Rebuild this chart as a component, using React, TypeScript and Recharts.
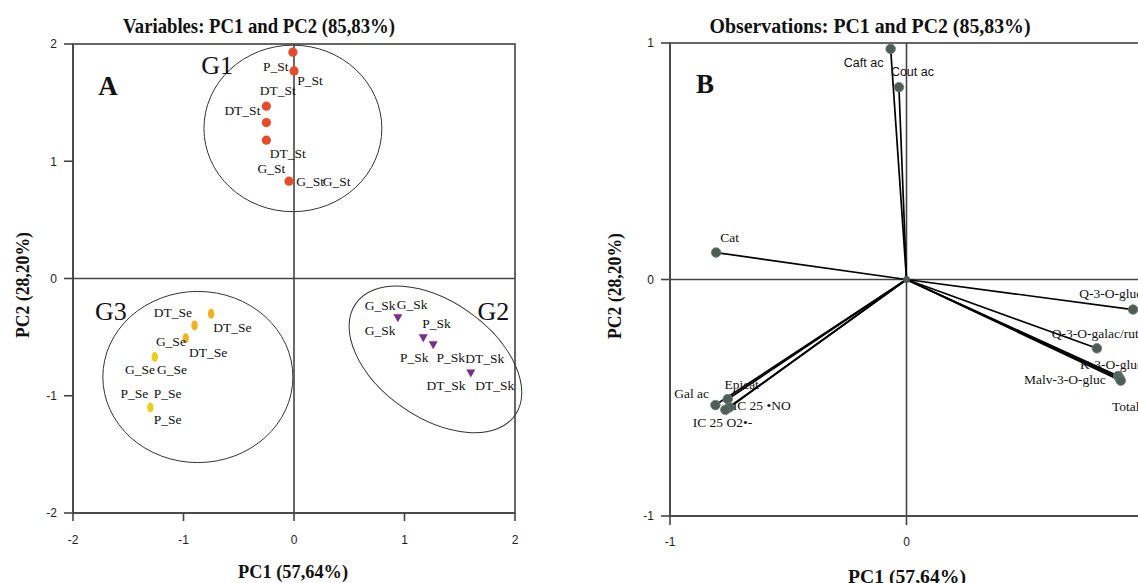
import React from 'react';
import { ScatterChart, Scatter, XAxis, YAxis, ReferenceLine, ReferenceArea } from 'recharts';

const SERIF = '"Liberation Serif", "Times New Roman", serif';
const SANS = '"Liberation Sans", Arial, sans-serif';

// ---------- Panel A data ----------
const pcTicksA = [-2, -1, 0, 1, 2];
const g1Points = [
  { x: -0.01, y: 1.93 }, { x: 0.0, y: 1.77 }, { x: -0.25, y: 1.47 },
  { x: -0.25, y: 1.33 }, { x: -0.25, y: 1.18 }, { x: -0.045, y: 0.83 },
];
const g2Points = [
  { x: 0.94, y: -0.34 }, { x: 1.17, y: -0.51 }, { x: 1.26, y: -0.57 }, { x: 1.6, y: -0.81 },
];
const g3PointsOrange = [
  { x: -0.75, y: -0.3 }, { x: -0.9, y: -0.4 }, { x: -0.98, y: -0.51 },
];
const g3PointsYellow = [
  { x: -1.26, y: -0.67 }, { x: -1.3, y: -1.1 },
];
const g1Labels = [
  { label: 'P_St', x: -0.28, y: 1.81 }, { label: 'P_St', x: 0.03, y: 1.69 },
  { label: 'DT_St', x: -0.31, y: 1.6 }, { label: 'DT_St', x: -0.63, y: 1.43 },
  { label: 'DT_St', x: -0.22, y: 1.07 }, { label: 'G_St', x: -0.33, y: 0.94 },
  { label: 'G_St', x: 0.02, y: 0.83 }, { label: 'G_St', x: 0.26, y: 0.83 },
];
const g2Labels = [
  { label: 'G_Sk', x: 0.64, y: -0.23 }, { label: 'G_Sk', x: 0.93, y: -0.22 },
  { label: 'G_Sk', x: 0.64, y: -0.44 }, { label: 'P_Sk', x: 1.16, y: -0.38 },
  { label: 'P_Sk', x: 0.96, y: -0.67 }, { label: 'P_Sk', x: 1.29, y: -0.67 },
  { label: 'DT_Sk', x: 1.55, y: -0.68 }, { label: 'DT_Sk', x: 1.2, y: -0.91 },
  { label: 'DT_Sk', x: 1.64, y: -0.91 },
];
const g3Labels = [
  { label: 'DT_Se', x: -1.27, y: -0.29 }, { label: 'DT_Se', x: -0.73, y: -0.42 },
  { label: 'G_Se', x: -1.25, y: -0.54 }, { label: 'DT_Se', x: -0.95, y: -0.63 },
  { label: 'G_Se', x: -1.53, y: -0.78 }, { label: 'G_Se', x: -1.24, y: -0.78 },
  { label: 'P_Se', x: -1.57, y: -0.98 }, { label: 'P_Se', x: -1.27, y: -0.98 },
  { label: 'P_Se', x: -1.27, y: -1.2 },
];
const groupNames = [
  { label: 'G1', x: -0.84, y: 1.82 },
  { label: 'G2', x: 1.66, y: -0.28 },
  { label: 'G3', x: -1.8, y: -0.28 },
];
const groupEllipses = [
  { name: 'G1', cx: -0.01, cy: 1.28, rx: 0.805, ry: 0.71, angle: 0 },
  { name: 'G2', cx: 1.28, cy: -0.69, rx: 0.88, ry: 0.495, angle: 35 },
  { name: 'G3', cx: -0.87, cy: -0.84, rx: 0.86, ry: 0.73, angle: 0 },
];

// ---------- Panel B data ----------
const pcTicksB = [-1, 0, 1];
const vectors = [
  { name: 'Caft ac', x: -0.067, y: 0.975 },
  { name: 'Cout ac', x: -0.032, y: 0.813 },
  { name: 'Cat', x: -0.805, y: 0.114 },
  { name: 'Gal ac', x: -0.808, y: -0.531 },
  { name: 'Epicat', x: -0.756, y: -0.506 },
  { name: 'IC 25 •NO', x: -0.749, y: -0.541 },
  { name: 'IC 25 O2•-', x: -0.766, y: -0.551 },
  { name: 'Q-3-O-gluc', x: 0.958, y: -0.127 },
  { name: 'Q-3-O-galac/rut', x: 0.805, y: -0.291 },
  { name: 'K-3-O-gluc', x: 0.895, y: -0.408 },
  { name: 'Malv-3-O-gluc', x: 0.901, y: -0.418 },
  { name: 'Total anthocyanins', x: 0.906, y: -0.428 },
];
const origin = [{ x: 0, y: 0 }];
const sansLabelsB = [
  { label: 'Caft ac', x: -0.265, y: 0.917 },
  { label: 'Cout ac', x: -0.066, y: 0.877 },
];
const serifLabelsB = [
  { label: 'Cat', x: -0.787, y: 0.179 },
  { label: 'Gal ac', x: -0.982, y: -0.484 },
  { label: 'Epicat', x: -0.77, y: -0.445 },
  { label: 'IC 25 •NO', x: -0.735, y: -0.534 },
  { label: 'IC 25 O2•-', x: -0.904, y: -0.605 },
  { label: 'Q-3-O-gluc', x: 0.73, y: -0.061 },
  { label: 'Q-3-O-galac/rut', x: 0.614, y: -0.23 },
  { label: 'K-3-O-gluc', x: 0.734, y: -0.361 },
  { label: 'Malv-3-O-gluc', x: 0.497, y: -0.421 },
  { label: 'Total anthocyanins', x: 0.869, y: -0.538 },
];

// ---------- shapes ----------
const serifLabel = (size: number, weight = 'normal') => (props: any) => {
  const { cx, cy, payload } = props;
  return (
    <text x={cx} y={cy} fontFamily={SERIF} fontSize={size} fontWeight={weight} fill="#111" dominantBaseline="central">
      {payload.label}
    </text>
  );
};
const sansLabel = (size: number) => (props: any) => {
  const { cx, cy, payload } = props;
  return (
    <text x={cx} y={cy} fontFamily={SANS} fontSize={size} fill="#111" dominantBaseline="central">
      {payload.label}
    </text>
  );
};
const circleShape = (r: number, fill: string) => (props: any) => (
  <circle cx={props.cx} cy={props.cy} r={r} fill={fill} />
);
const ovalShape = (fill: string) => (props: any) => (
  <ellipse cx={props.cx} cy={props.cy} rx={3.2} ry={5} fill={fill} />
);
const triShape = (props: any) => {
  const { cx, cy } = props;
  return <path d={`M${cx - 4.5},${cy - 4} L${cx + 4.5},${cy - 4} L${cx},${cy + 4} Z`} fill="#7B2C8C" />;
};
const vectorMarker = (props: any) => (
  <circle cx={props.cx} cy={props.cy} r={4.8} fill="#4D5F55" stroke="#6F7F76" strokeWidth={0.8} />
);
const ellipseShape = (angle: number) => (props: any) => {
  const { x, y, width, height } = props;
  const cx = x + width / 2;
  const cy = y + height / 2;
  return (
    <ellipse cx={cx} cy={cy} rx={Math.abs(width) / 2} ry={Math.abs(height) / 2} fill="none" stroke="#333" strokeWidth={1}
      transform={`rotate(${angle} ${cx} ${cy})`} />
  );
};

const tickStyle = { fontFamily: SANS, fontSize: 12, fill: '#222' };
const axisLineStyle = { stroke: '#444', strokeWidth: 1.6 };

function PanelA() {
  return (
    <ScatterChart width={560} height={583} margin={{ top: 44, right: 45, left: 0, bottom: 0 }}>
      <XAxis type="number" dataKey="x" domain={[-2, 2]} ticks={pcTicksA} allowDataOverflow height={70}
        tickSize={8} tickMargin={14} axisLine={axisLineStyle} tickLine={axisLineStyle} tick={tickStyle} />
      <YAxis type="number" dataKey="y" domain={[-2, 2]} ticks={pcTicksA} allowDataOverflow width={73}
        tickSize={9} tickMargin={7} axisLine={axisLineStyle} tickLine={axisLineStyle} tick={tickStyle} />
      <ReferenceArea x1={-2} x2={2} y1={-2} y2={2} fill="none" stroke="#666" strokeWidth={2} ifOverflow="visible" />
      <ReferenceLine x={0} stroke="#444" strokeWidth={1.6} />
      <ReferenceLine y={0} stroke="#444" strokeWidth={1.6} />
      {groupEllipses.map((e) => (
        <ReferenceArea key={e.name} x1={e.cx - e.rx} x2={e.cx + e.rx} y1={e.cy - e.ry} y2={e.cy + e.ry}
          ifOverflow="visible" shape={ellipseShape(e.angle)} />
      ))}
      <Scatter data={g1Points} shape={circleShape(4.6, '#E64C28')} isAnimationActive={false} />
      <Scatter data={g2Points} shape={triShape} isAnimationActive={false} />
      <Scatter data={g3PointsOrange} shape={ovalShape('#F0B31C')} isAnimationActive={false} />
      <Scatter data={g3PointsYellow} shape={ovalShape('#E6D21E')} isAnimationActive={false} />
      <Scatter data={g1Labels} shape={serifLabel(13.5)} isAnimationActive={false} />
      <Scatter data={g2Labels} shape={serifLabel(13.5)} isAnimationActive={false} />
      <Scatter data={g3Labels} shape={serifLabel(13.5)} isAnimationActive={false} />
      <Scatter data={groupNames} shape={serifLabel(26)} isAnimationActive={false} />
    </ScatterChart>
  );
}

function PanelB() {
  return (
    <ScatterChart width={600} height={583} margin={{ top: 43, right: 47, left: 0, bottom: 0 }}>
      <XAxis type="number" dataKey="x" domain={[-1, 1]} ticks={pcTicksB} allowDataOverflow height={67}
        tickSize={9} tickMargin={12} axisLine={axisLineStyle} tickLine={axisLineStyle} tick={tickStyle} />
      <YAxis type="number" dataKey="y" domain={[-1, 1]} ticks={pcTicksB} allowDataOverflow width={80}
        tickSize={9} tickMargin={7} axisLine={axisLineStyle} tickLine={axisLineStyle} tick={tickStyle} />
      <ReferenceArea x1={-1} x2={1} y1={-1} y2={1} fill="none" stroke="#666" strokeWidth={2} ifOverflow="visible" />
      <ReferenceLine x={0} stroke="#444" strokeWidth={1.6} />
      <ReferenceLine y={0} stroke="#444" strokeWidth={1.6} />
      {vectors.map((v) => (
        <ReferenceLine key={v.name} segment={[{ x: 0, y: 0 }, { x: v.x, y: v.y }]} stroke="#000" strokeWidth={1.7}
          ifOverflow="visible" />
      ))}
      <Scatter data={origin} shape={circleShape(3.5, '#4D5F55')} isAnimationActive={false} />
      <Scatter data={vectors} shape={vectorMarker} isAnimationActive={false} />
      <Scatter data={sansLabelsB} shape={sansLabel(12.5)} isAnimationActive={false} />
      <Scatter data={serifLabelsB} shape={serifLabel(13.5)} isAnimationActive={false} />
    </ScatterChart>
  );
}

export default function App() {
  return (
    <div style={{ position: 'absolute', left: 0, top: 0, width: 1138, height: 583, overflow: 'hidden', background: '#fff' }}>
      <div style={{ position: 'absolute', left: 0, top: 0 }}>
        <PanelA />
      </div>
      <div style={{ position: 'absolute', left: 590, top: 0 }}>
        <PanelB />
      </div>
      <svg width={1138} height={583} style={{ position: 'absolute', left: 0, top: 0, pointerEvents: 'none' }}>
        <g fontFamily={SERIF} fontWeight="bold" fill="#111">
          <text x={259} y={26} fontSize={20} textAnchor="middle" dominantBaseline="central" textLength={272}
            lengthAdjust="spacingAndGlyphs">Variables: PC1 and PC2 (85,83%)</text>
          <text x={870} y={26} fontSize={20} textAnchor="middle" dominantBaseline="central" textLength={321}
            lengthAdjust="spacingAndGlyphs">Observations: PC1 and PC2 (85,83%)</text>
          <text x={293} y={571} fontSize={19} textAnchor="middle" dominantBaseline="central" textLength={110}
            lengthAdjust="spacingAndGlyphs">PC1 (57,64%)</text>
          <text x={907} y={576} fontSize={19} textAnchor="middle" dominantBaseline="central" textLength={118}
            lengthAdjust="spacingAndGlyphs">PC1 (57,64%)</text>
          <text x={0} y={0} fontSize={19} textAnchor="middle" dominantBaseline="central" textLength={106}
            lengthAdjust="spacingAndGlyphs" transform="translate(22 285) rotate(-90)">PC2 (28,20%)</text>
          <text x={0} y={0} fontSize={19} textAnchor="middle" dominantBaseline="central" textLength={106}
            lengthAdjust="spacingAndGlyphs" transform="translate(614 286) rotate(-90)">PC2 (28,20%)</text>
          <text x={108} y={86} fontSize={27} textAnchor="middle" dominantBaseline="central">A</text>
          <text x={705} y={84} fontSize={27} textAnchor="middle" dominantBaseline="central">B</text>
        </g>
      </svg>
    </div>
  );
}
